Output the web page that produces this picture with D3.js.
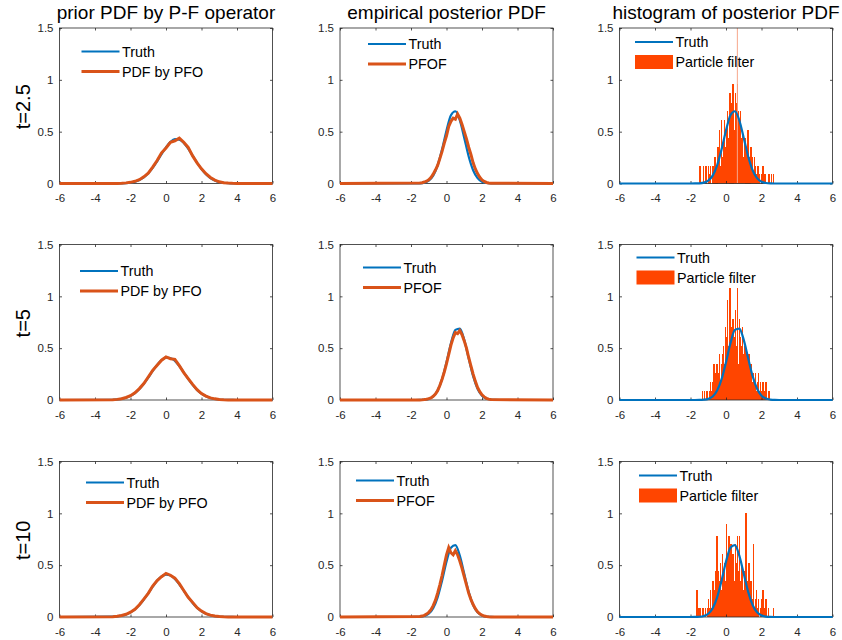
<!DOCTYPE html>
<html><head><meta charset="utf-8">
<script src="https://cdn.jsdelivr.net/npm/d3@7"></script>
<style>
body{margin:0;background:#fff}
svg{display:block}
text{font-family:"Liberation Sans",Arial,Helvetica,sans-serif}
</style>
</head><body>
<svg id="c" width="842" height="640"></svg>
<script>
// ---------- DATA ----------
const colTitles = ["prior PDF by P-F operator", "empirical posterior PDF", "histogram of posterior PDF"];
const rowLabels = ["t=2.5", "t=5", "t=10"];
const legendCol1 = ["Truth", "PDF by PFO"];
const legendCol2 = ["Truth", "PFOF"];
const legendCol3 = ["Truth", "Particle filter"];
const xTicks = [-6, -4, -2, 0, 2, 4, 6];
const xTickLabels = ["-6", "-4", "-2", "0", "2", "4", "6"];
const yTicks = [0, 0.5, 1, 1.5];
const yTickLabels = ["0", "0.5", "1", "1.5"];

// x grid for the truth curves and prior PFO curves
const xGrid = [-6, -3, -2.75, -2.5, -2.25, -2, -1.75, -1.5, -1.25, -1, -0.75, -0.5, -0.25, 0, 0.25, 0.5, 0.75, 1, 1.25, 1.5, 1.75, 2, 2.25, 2.5, 2.75, 3, 3.25, 3.5, 3.75, 4, 6];
// finer x grid for the empirical posterior (PFOF) curves
const xFine = [-6, -1.5, -1.375, -1.25, -1.125, -1, -0.875, -0.75, -0.625, -0.5, -0.375, -0.25, -0.125, 0, 0.125, 0.25, 0.375, 0.5, 0.625, 0.75, 0.875, 1, 1.125, 1.25, 1.375, 1.5, 1.625, 1.75, 1.875, 2, 2.125, 2.25, 2.375, 2.5, 6];

// prior PDF (column 1)
const priorTruth_t25 = [0, 0.0002, 0.0007, 0.0017, 0.004, 0.009, 0.018, 0.034, 0.059, 0.098, 0.150, 0.214, 0.283, 0.349, 0.401, 0.428, 0.424, 0.392, 0.337, 0.269, 0.200, 0.139, 0.089, 0.053, 0.030, 0.015, 0.007, 0.003, 0.001, 0.0005, 0];
const priorPFO_t25   = [0, 0.0005, 0.001, 0.003, 0.006, 0.011, 0.021, 0.037, 0.064, 0.10, 0.158, 0.222, 0.296, 0.343, 0.398, 0.412, 0.438, 0.398, 0.348, 0.266, 0.199, 0.142, 0.095, 0.058, 0.033, 0.016, 0.008, 0.004, 0.002, 0.001, 0];
const priorTruth_t5  = [0, 0.0026, 0.0056, 0.0116, 0.022, 0.040, 0.067, 0.106, 0.157, 0.216, 0.280, 0.339, 0.384, 0.408, 0.405, 0.377, 0.328, 0.267, 0.204, 0.146, 0.097, 0.061, 0.036, 0.0196, 0.010, 0.0048, 0.0022, 0.0009, 0.0004, 0.0001, 0];
const priorPFO_t5    = [0, 0.003, 0.006, 0.012, 0.024, 0.041, 0.07, 0.11, 0.158, 0.222, 0.286, 0.336, 0.384, 0.415, 0.398, 0.392, 0.331, 0.265, 0.207, 0.151, 0.10, 0.062, 0.037, 0.02, 0.011, 0.005, 0.002, 0.001, 0.0005, 0, 0];
const priorTruth_t10 = [0, 0.003, 0.0065, 0.013, 0.025, 0.045, 0.074, 0.115, 0.168, 0.229, 0.292, 0.349, 0.391, 0.409, 0.401, 0.368, 0.316, 0.254, 0.192, 0.135, 0.089, 0.055, 0.032, 0.017, 0.0087, 0.004, 0.0018, 0.0007, 0.0003, 0.0001, 0];
const priorPFO_t10   = [0, 0.003, 0.007, 0.014, 0.026, 0.046, 0.075, 0.118, 0.172, 0.228, 0.299, 0.352, 0.389, 0.421, 0.403, 0.375, 0.322, 0.255, 0.19, 0.141, 0.09, 0.057, 0.033, 0.018, 0.009, 0.004, 0.002, 0.001, 0.0003, 0, 0];

// posterior truth (columns 2 and 3), on xGrid
const postTruth_t25 = [0, 0, 0, 0, 0, 0.0001, 0.0004, 0.002, 0.008, 0.028, 0.076, 0.175, 0.329, 0.512, 0.658, 0.697, 0.610, 0.439, 0.261, 0.128, 0.052, 0.017, 0.005, 0.001, 0.0002, 0, 0, 0, 0, 0, 0];
const postTruth_t5  = [0, 0, 0, 0, 0, 0, 0.0001, 0.0006, 0.003, 0.011, 0.034, 0.091, 0.201, 0.365, 0.547, 0.676, 0.689, 0.580, 0.402, 0.230, 0.109, 0.042, 0.014, 0.004, 0.0008, 0.0001, 0, 0, 0, 0, 0];
const postTruth_t10 = [0, 0, 0, 0, 0, 0.0001, 0.0005, 0.0024, 0.0096, 0.031, 0.085, 0.190, 0.351, 0.534, 0.669, 0.693, 0.592, 0.417, 0.242, 0.116, 0.046, 0.015, 0.004, 0.0009, 0.0002, 0, 0, 0, 0, 0, 0];

// empirical posterior PFOF (column 2), on xFine
const postPFOF_t25 = [0, 0.004, 0.008, 0.014, 0.022, 0.035, 0.058, 0.09, 0.13, 0.175, 0.24, 0.31, 0.39, 0.46, 0.55, 0.60, 0.63, 0.62, 0.67, 0.63, 0.57, 0.50, 0.43, 0.35, 0.28, 0.20, 0.14, 0.095, 0.06, 0.035, 0.02, 0.01, 0.005, 0.002, 0];
const postPFOF_t5  = [0, 0.001, 0.002, 0.004, 0.008, 0.013, 0.02, 0.036, 0.058, 0.09, 0.14, 0.20, 0.27, 0.35, 0.44, 0.53, 0.60, 0.65, 0.64, 0.67, 0.63, 0.57, 0.50, 0.41, 0.33, 0.25, 0.18, 0.12, 0.08, 0.05, 0.03, 0.016, 0.008, 0.004, 0];
const postPFOF_t10 = [0, 0.004, 0.009, 0.016, 0.028, 0.045, 0.07, 0.11, 0.16, 0.23, 0.31, 0.40, 0.50, 0.60, 0.67, 0.62, 0.60, 0.64, 0.60, 0.54, 0.47, 0.39, 0.31, 0.23, 0.17, 0.12, 0.08, 0.05, 0.03, 0.017, 0.009, 0.005, 0.002, 0.001, 0];

// particle filter histograms (column 3): bin start, bin width, bin heights
const histBinWidth = 0.06;
const histStart_t25 = -1.5;
const hist_t25 = [0.17,0,0,0.17,0,0.17,0.17,0,0.17,0.09, 0.17,0,0.17,0.09,0.26,0.17,0.09,0.35,0.52,0.17, 0.61,0.26,0.44,0.61,0.35,0.52,0.70,0.44,0.87,0.61, 0.78,0.96,0.52,0.87,0.78,0.96,0.70,0.61,0.70,0.44, 0.52,0.26,0.44,0.35,0.17,0.52,0.26,0.17,0.35,0.26, 0.09,0.26,0.17,0.09,0.17,0.17,0.09,0,0.09,0.17, 0,0.09,0,0,0.09,0.09,0,0.09,0,0.09];
const histSpike_t25 = [0.64];
const histStart_t5 = -1.5;
const hist_t5 = [0,0,0.09,0,0.09,0,0.09,0.09,0,0.09, 0.17,0.09,0.17,0.35,0.17,0.26,0.35,0.26,0.44,0.17, 0.35,0.44,0.52,0.35,0.70,0.61,0.96,0.52,1.08,0.70, 0.44,0.78,0.61,0.87,0.52,1.08,0.35,0.78,0.61,0.52, 0.70,0.44,0.52,0.26,0.44,0.35,0.44,0.26,0.35,0.17, 0.26,0.17,0.26,0.09,0.17,0.26,0.09,0.17,0.09,0.17, 0,0.09,0.17,0,0.09,0.09,0,0,0,0];
const histSpike_t5 = [];
const histStart_t10 = -1.68;
const hist_t10 = [0.26,0,0.09,0.09,0,0.09,0.09,0,0.09,0, 0.09,0.17,0.09,0.26,0.09,0.35,0.17,0.26,0.44,0.78, 0.44,0.35,0.52,0.26,0.61,0.44,0.52,0.35,0.90,0.61, 0.78,0.44,0.70,0.52,0.61,0.35,0.70,0.52,0.78,0.44, 0.78,0.35,0.52,0.44,0.26,0.44,1.0,0.35,0.26,0.52, 0.17,0.35,0.17,0.70,0.09,0.17,0.26,0.09,0.17,0, 0.09,0.17,0.26,0,0.09,0.17,0,0.09,0,0, 0,0,0.09];
const histSpike_t10 = [];

// ---------- LAYOUT / STYLE ----------
const colLeft = [59.5, 340, 619.5];
const rowTop = [28, 244.5, 461.5];
const W = 213, H = 155.5;
const BLUE = "#0072BD", ORANGE = "#D95319", HIST = "#FF4500", AX = "#262626";
const legendPos = [
  [[22, 23.5], [28, 16], [15.5, 14]],
  [[20.5, 26.5], [23, 23], [17, 13]],
  [[26.5, 21], [16, 19], [19.5, 14]]
];

const svg = d3.select("#c");
const x = d3.scaleLinear().domain([-6, 6]).range([0, W]);
const y = d3.scaleLinear().domain([0, 1.5]).range([H, 0]);
const lineGen = (xs) => d3.line().x((d, i) => x(xs[i])).y(d => y(d));

const rows = [
  {prior: [priorTruth_t25, priorPFO_t25], post: postTruth_t25, pfof: postPFOF_t25, hist: hist_t25, hs: histStart_t25, spike: histSpike_t25},
  {prior: [priorTruth_t5, priorPFO_t5], post: postTruth_t5, pfof: postPFOF_t5, hist: hist_t5, hs: histStart_t5, spike: histSpike_t5},
  {prior: [priorTruth_t10, priorPFO_t10], post: postTruth_t10, pfof: postPFOF_t10, hist: hist_t10, hs: histStart_t10, spike: histSpike_t10}
];

function axes(g) {
  const common = a => a.tickSizeOuter(0);
  const bx = g.append("g").attr("transform", `translate(0,${H})`)
    .call(common(d3.axisBottom(x).tickValues(xTicks).tickSizeInner(-2.5).tickPadding(10.5).tickFormat((d, i) => xTickLabels[i])));
  const lx = g.append("g")
    .call(common(d3.axisLeft(y).tickValues(yTicks).tickSizeInner(-2.5).tickPadding(6).tickFormat((d, i) => yTickLabels[i])));
  const tx = g.append("g").call(common(d3.axisTop(x).tickValues(xTicks).tickSizeInner(-2.5).tickFormat("")));
  const rx = g.append("g").attr("transform", `translate(${W},0)`)
    .call(common(d3.axisRight(y).tickValues(yTicks).tickSizeInner(-2.5).tickFormat("")));
  [bx, lx, tx, rx].forEach(a => {
    a.select(".domain").remove();
    a.selectAll("line").attr("stroke", AX).attr("stroke-width", 0.8);
    a.selectAll("text").attr("fill", AX).style("font-size", "11.5px").style("font-family", '"Liberation Sans",Arial,sans-serif');
  });
  g.append("rect").attr("width", W).attr("height", H).attr("fill", "none").attr("stroke", AX).attr("stroke-width", 0.8);
}

function legend(g, pos, labels, secondIsPatch, thick) {
  const [lx, ly] = pos;
  const lg = g.append("g").attr("transform", `translate(${lx},${ly})`);
  lg.append("line").attr("x1", 0).attr("x2", 38).attr("y1", 0).attr("y2", 0).attr("stroke", BLUE).attr("stroke-width", 2.2);
  if (secondIsPatch) {
    lg.append("rect").attr("x", 0).attr("y", 20 - 7).attr("width", 38).attr("height", 14).attr("fill", HIST);
  } else {
    lg.append("line").attr("x1", 0).attr("x2", 38).attr("y1", 20).attr("y2", 20).attr("stroke", ORANGE).attr("stroke-width", thick);
  }
  labels.forEach((t, i) => lg.append("text").attr("x", 40.5).attr("y", i * 20).attr("dy", "0.36em")
    .style("font-size", "14.3px").attr("fill", "#000").text(t));
}

rows.forEach((R, r) => {
  for (let c = 0; c < 3; c++) {
    const g = svg.append("g").attr("transform", `translate(${colLeft[c]},${rowTop[r]})`);
    if (c === 0) {
      axes(g);
      g.append("path").attr("d", lineGen(xGrid).curve(d3.curveMonotoneX)(R.prior[0])).attr("fill", "none").attr("stroke", BLUE).attr("stroke-width", 2.2);
      g.append("path").attr("d", lineGen(xGrid)(R.prior[1])).attr("fill", "none").attr("stroke", ORANGE).attr("stroke-width", 3);
      legend(g, legendPos[r][c], legendCol1, false, 3);
    } else if (c === 1) {
      axes(g);
      g.append("path").attr("d", lineGen(xGrid).curve(d3.curveMonotoneX)(R.post)).attr("fill", "none").attr("stroke", BLUE).attr("stroke-width", 2.2);
      g.append("path").attr("d", lineGen(xFine)(R.pfof)).attr("fill", "none").attr("stroke", ORANGE).attr("stroke-width", 3);
      legend(g, legendPos[r][c], legendCol2, false, 3);
    } else {
      const clipId = "clip" + r;
      g.append("clipPath").attr("id", clipId).append("rect").attr("width", W).attr("height", H);
      const bars = g.append("g").attr("clip-path", `url(#${clipId})`);
      const bw = x(histBinWidth) - x(0);
      bars.selectAll("rect").data(R.hist).join("rect")
        .attr("x", (d, i) => x(R.hs + i * histBinWidth))
        .attr("width", bw + 0.35)
        .attr("y", d => y(d))
        .attr("height", d => y(0) - y(d))
        .attr("fill", HIST)
        .attr("shape-rendering", "crispEdges");
      bars.selectAll("line.spike").data(R.spike).join("line").attr("class", "spike")
        .attr("x1", d => x(d)).attr("x2", d => x(d)).attr("y1", y(0)).attr("y2", y(1.6))
        .attr("stroke", "#F7A78C").attr("stroke-width", 1);
      axes(g);
      g.append("path").attr("d", lineGen(xGrid).curve(d3.curveMonotoneX)(R.post)).attr("fill", "none").attr("stroke", BLUE).attr("stroke-width", 2.2);
      legend(g, legendPos[r][c], legendCol3, true, 3);
    }
    if (r === 0) {
      svg.append("text").attr("x", colLeft[c] + W / 2).attr("y", 19).attr("text-anchor", "middle")
        .style("font-size", "19px").attr("fill", "#000").text(colTitles[c]);
    }
  }
  svg.append("text").attr("transform", `translate(29.5,${rowTop[r] + H / 2 + 1}) rotate(-90)`)
    .attr("text-anchor", "middle").style("font-size", "20px").attr("fill", "#000").text(rowLabels[r]);
});
</script>
</body></html>
